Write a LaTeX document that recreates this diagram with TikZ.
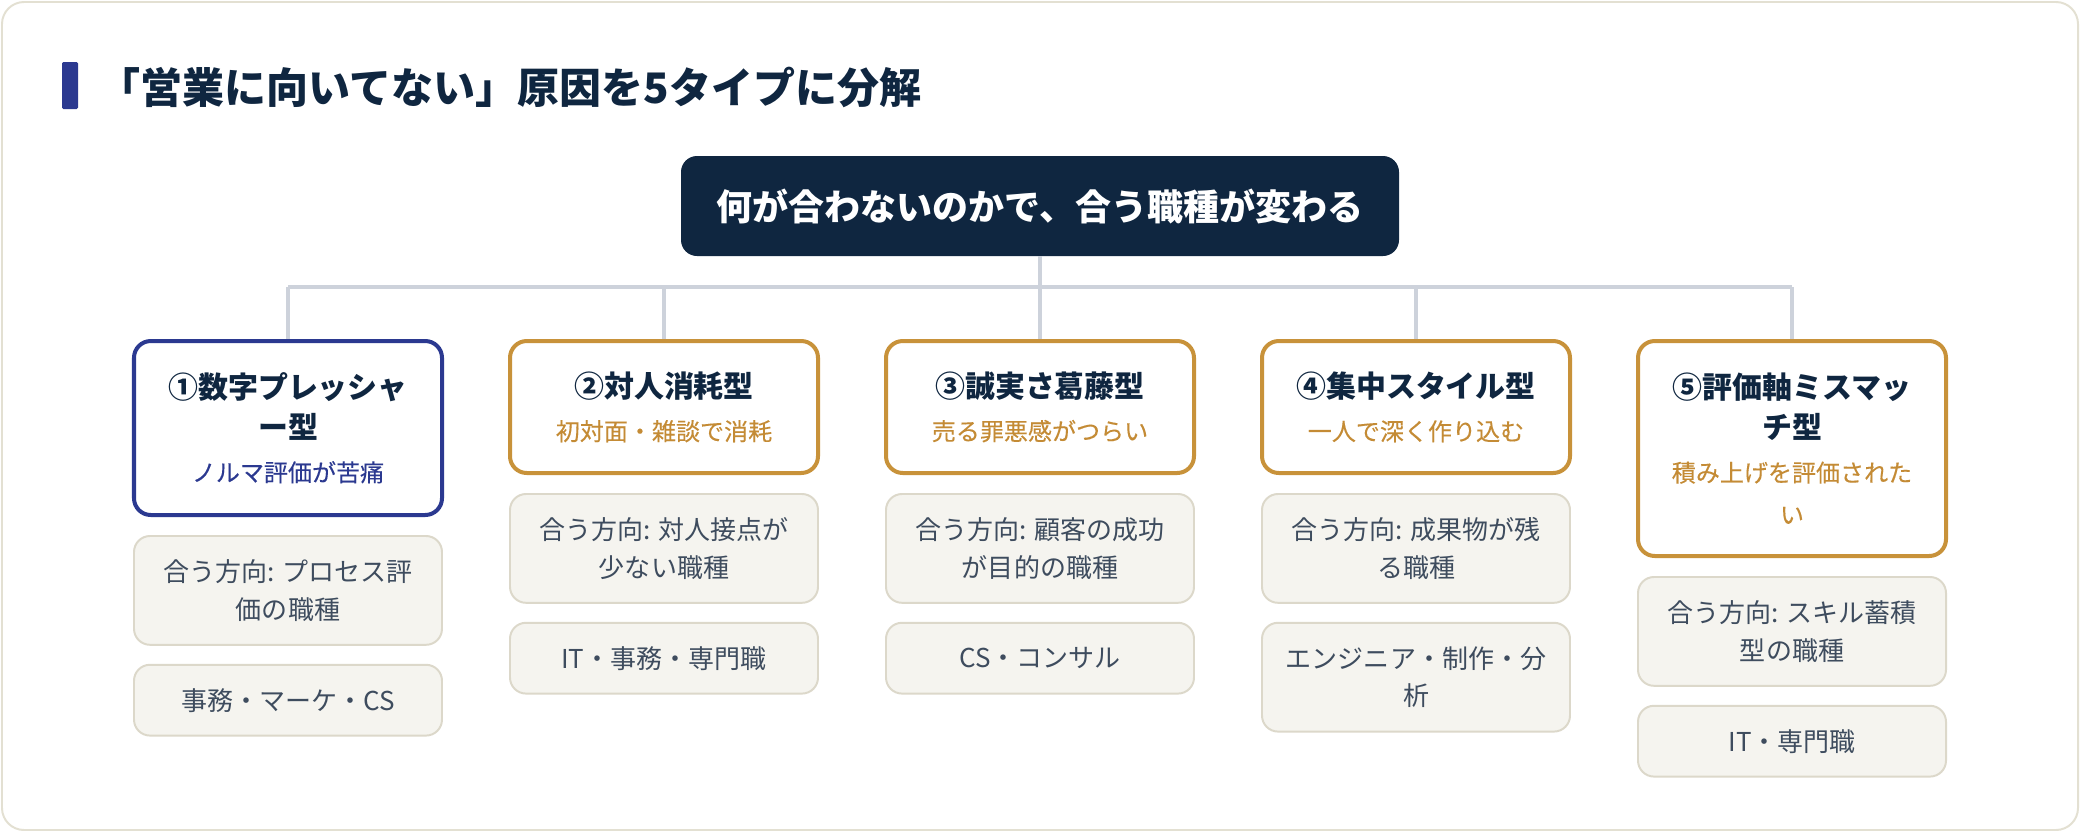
\documentclass[tikz,border=0pt]{standalone}
\usepackage{fontspec}
\setmainfont{Noto Sans CJK JP}
\newfontfamily\jpmed{Noto Sans CJK JP}[FakeBold=0.2]
\usepackage{xcolor}
\usetikzlibrary{positioning}

\definecolor{navy}{HTML}{0F2640}
\definecolor{indigo}{HTML}{2B3990}
\definecolor{gold}{HTML}{C8923A}
\definecolor{goldtext}{HTML}{C48B35}
\definecolor{panelline}{HTML}{E3E0D2}
\definecolor{linkgray}{HTML}{CDD2DB}
\definecolor{dirfill}{HTML}{F5F4EF}
\definecolor{dirline}{HTML}{DCD8CA}
\definecolor{dirtext}{HTML}{3E4C5E}

\tikzset{
  typebox/.style={draw=gold, line width=2.85pt, rounded corners=0.42cm, fill=white,
    minimum width=7.7cm, anchor=north, align=center, text=navy,
    font=\fontsize{21.3}{28.45}\selectfont\bfseries},
  dirbox/.style={draw=dirline, line width=1.4pt, rounded corners=0.4cm, fill=dirfill,
    minimum width=7.7cm, align=center, text=dirtext,
    font=\fontsize{18.5}{27}\selectfont},
  link/.style={draw=linkgray, line width=2.85pt},
}
\newcommand{\tsub}[2]{{\jpmed\mdseries\fontsize{17.1}{26.3}\selectfont\color{#1}#2}}

\begin{document}
\begin{tikzpicture}
  \useasboundingbox (0,0) rectangle (52,-20.8);
  \draw[panelline, line width=1.4pt, fill=white, rounded corners=0.55cm] (0.05,-0.05) rectangle (51.95,-20.75);

  % title
  \fill[indigo, rounded corners=1pt] (1.55,-1.55) rectangle (1.95,-2.725);
  \node[anchor=west, inner sep=0pt, text=navy, font=\fontsize{29.9}{34}\selectfont\bfseries] (title) at (2.45,-2.19)
    {「営業に向いてない」原因を5タイプに分解};

  \node[fill=navy, rounded corners=0.4cm, minimum width=17.95cm, minimum height=2.5cm, text=white,
    font=\fontsize{25.6}{30}\selectfont\bfseries] (head) at (26,-5.15) {何が合わないのかで、合う職種が変わる};

  % five types
  \node[typebox, draw=indigo, minimum height=4.35cm] (t1) at (7.2,-8.475)
    {①数字プレッシャ\\ー型\\[2.1pt]\tsub{indigo}{ノルマ評価が苦痛}};
  \node[typebox, minimum height=3.3cm] (t2) at (16.6,-8.475)
    {②対人消耗型\\[2.1pt]\tsub{goldtext}{初対面・雑談で消耗}};
  \node[typebox, minimum height=3.3cm] (t3) at (26,-8.475)
    {③誠実さ葛藤型\\[2.1pt]\tsub{goldtext}{売る罪悪感がつらい}};
  \node[typebox, minimum height=3.3cm] (t4) at (35.4,-8.475)
    {④集中スタイル型\\[2.1pt]\tsub{goldtext}{一人で深く作り込む}};
  \node[typebox, minimum height=5.375cm] (t5) at (44.8,-8.475)
    {⑤評価軸ミスマッ\\チ型\\[2.1pt]\tsub{goldtext}{積み上げを評価された}\\[1.4pt]\tsub{goldtext}{い}};

  % matching jobs
  \node[dirbox, below=0.45cm of t1, minimum height=2.72cm] (d1) {合う方向: プロセス評\\価の職種};
  \node[dirbox, below=0.45cm of d1, minimum height=1.77cm] (j1) {事務・マーケ・CS};
  \node[dirbox, below=0.45cm of t2, minimum height=2.72cm] (d2) {合う方向: 対人接点が\\少ない職種};
  \node[dirbox, below=0.45cm of d2, minimum height=1.77cm] (j2) {IT・事務・専門職};
  \node[dirbox, below=0.45cm of t3, minimum height=2.72cm] (d3) {合う方向: 顧客の成功\\が目的の職種};
  \node[dirbox, below=0.45cm of d3, minimum height=1.77cm] (j3) {CS・コンサル};
  \node[dirbox, below=0.45cm of t4, minimum height=2.72cm] (d4) {合う方向: 成果物が残\\る職種};
  \node[dirbox, below=0.45cm of d4, minimum height=2.72cm] (j4) {エンジニア・制作・分\\析};
  \node[dirbox, below=0.45cm of t5, minimum height=2.72cm] (d5) {合う方向: スキル蓄積\\型の職種};
  \node[dirbox, below=0.45cm of d5, minimum height=1.77cm] (j5) {IT・専門職};

  % tree
  \coordinate (bus) at (26,-7.175);
  \draw[link] (head.south) -- (bus);
  \draw[link] (t1.north |- bus) -- (t5.north |- bus);
  \foreach \i in {1,...,5}
    \draw[link] (t\i.north |- bus) -- (t\i.north);
\end{tikzpicture}
\end{document}
